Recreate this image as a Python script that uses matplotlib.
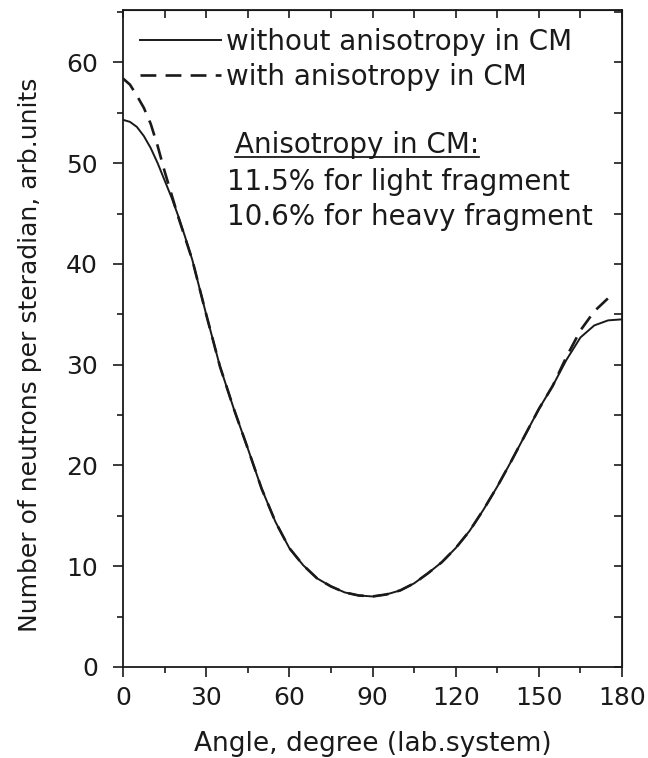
import matplotlib
matplotlib.use('Agg')
import matplotlib.pyplot as plt
from matplotlib.lines import Line2D
from matplotlib.ticker import MultipleLocator

plt.rcParams['font.family'] = ['DejaVu Sans']

# angle in lab system (degree)
angle = [0, 2.5, 5, 7.5, 10, 12.5, 15, 17.5, 20, 22.5, 25, 30, 35, 40, 45, 50, 55,
         60, 65, 70, 75, 80, 85, 90, 95, 100, 105, 110, 115, 120, 125, 130, 135,
         140, 145, 150, 155, 160, 165, 170, 175, 180]
# without anisotropy in CM
no_aniso = [54.3, 54.1, 53.6, 52.7, 51.5, 50.0, 48.3, 46.6, 44.7, 42.6, 40.4, 35.0,
            29.8, 25.6, 21.7, 17.7, 14.4, 11.8, 10.1, 8.8, 8.0, 7.4, 7.1, 7.0, 7.2,
            7.6, 8.3, 9.3, 10.4, 11.8, 13.5, 15.6, 17.9, 20.4, 23.0, 25.6, 27.9,
            30.5, 32.7, 33.9, 34.4, 34.5]

angle_aniso = [0, 2.5, 5, 7.5, 10, 12.5, 15, 17.5, 20, 22.5, 25, 30, 35, 40, 45, 50,
               55, 60, 65, 70, 75, 80, 85, 90, 95, 100, 105, 110, 115, 120, 125, 130,
               135, 140, 145, 150, 155, 160, 165, 170, 175, 177]
# with anisotropy in CM
with_aniso = [58.4, 57.8, 56.7, 55.5, 53.9, 51.7, 49.2, 46.9, 44.6, 42.5, 40.4, 35.0,
              29.8, 25.6, 21.7, 17.7, 14.4, 11.8, 10.1, 8.8, 8.0, 7.4, 7.1, 7.0, 7.2,
              7.6, 8.3, 9.3, 10.4, 11.8, 13.5, 15.6, 17.9, 20.4, 23.0, 25.6, 27.9,
              30.8, 33.4, 35.3, 36.6, 37.0]

ink = '#1a1a1a'
fs = 18      # tick labels, axis titles
fs_txt = 20  # legend and note

fig = plt.figure(figsize=(6.48, 7.58), dpi=100)
ax = fig.add_axes([123 / 648, 1 - 667 / 758, 499 / 648, 657 / 758])

ax.plot(angle, no_aniso, color=ink, lw=1.4)
ax.plot(angle_aniso, with_aniso, color=ink, lw=1.9, dashes=(6, 3.5))

ax.set_xlim(0, 180)
ax.set_ylim(0, 65.2)
ax.xaxis.set_major_locator(MultipleLocator(30))
ax.xaxis.set_minor_locator(MultipleLocator(15))
ax.yaxis.set_major_locator(MultipleLocator(10))
ax.yaxis.set_minor_locator(MultipleLocator(5))
ax.tick_params(which='major', direction='out', length=7, width=1.2,
               labelsize=fs, colors=ink)
ax.tick_params(which='minor', direction='out', length=4, width=1.2, colors=ink)
ax.tick_params(axis='x', which='major', pad=7)
ax.tick_params(axis='y', which='major', pad=11)
for s in ax.spines.values():
    s.set_linewidth(1.3)
    s.set_color(ink)

top = ax.secondary_xaxis('top')
top.xaxis.set_major_locator(MultipleLocator(15))
top.tick_params(direction='in', length=5.5, width=1.2, labeltop=False, colors=ink)
right = ax.secondary_yaxis('right')
right.yaxis.set_major_locator(MultipleLocator(5))
right.tick_params(direction='in', length=5.5, width=1.2, labelright=False, colors=ink)

ax.set_xlabel('Angle, degree (lab.system)', fontsize=19, labelpad=15, color=ink)
ax.set_ylabel('Number of neutrons per steradian, arb.units', fontsize=fs, color=ink)
ax.yaxis.set_label_coords(-0.162, 0.475)

handles = [Line2D([], [], color=ink, lw=1.4),
           Line2D([], [], color=ink, lw=1.9, dashes=(6, 3.5))]
ax.legend(handles, ['without anisotropy in CM', 'with anisotropy in CM'],
          loc='upper left', bbox_to_anchor=(0.034, 0.973), frameon=False,
          fontsize=fs_txt, handlelength=2.9, handletextpad=0.18, borderpad=0,
          labelspacing=0.25, borderaxespad=0, labelcolor=ink)

title = fig.text(235 / 648, 1 - 153 / 758, 'Anisotropy in CM:', fontsize=fs_txt,
                 va='baseline', ha='left', color=ink)
fig.text(227 / 648, 1 - 190 / 758, '11.5% for light fragment', fontsize=fs_txt,
         va='baseline', ha='left', color=ink)
fig.text(227 / 648, 1 - 225 / 758, '10.6% for heavy fragment', fontsize=fs_txt,
         va='baseline', ha='left', color=ink)

# underline the small heading
fig.canvas.draw()
bb = title.get_window_extent().transformed(fig.transFigure.inverted())
yl = 1 - 157 / 758
fig.add_artist(Line2D([bb.x0, bb.x1], [yl, yl], transform=fig.transFigure,
                      color=ink, lw=1.3))

fig.savefig('out.png', dpi=100)
